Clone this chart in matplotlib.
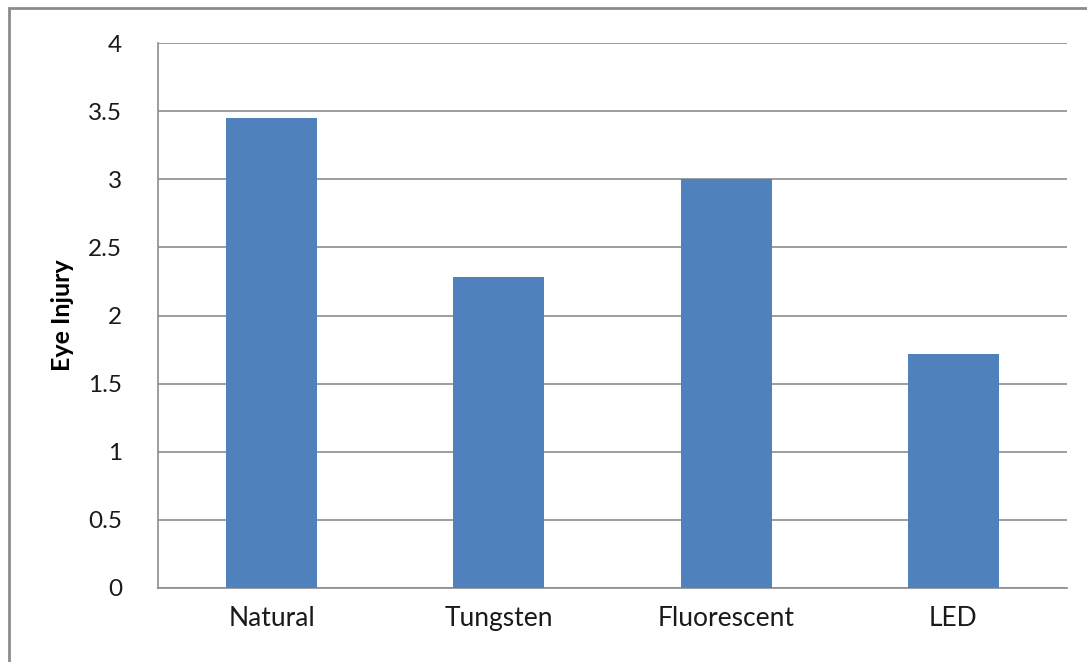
import matplotlib
matplotlib.use("Agg")
import matplotlib.pyplot as plt
from matplotlib.patches import Rectangle

categories = ["Natural", "Tungsten", "Fluorescent", "LED"]
eye_injury = [3.45, 2.28, 3.0, 1.72]
yticks = [0, 0.5, 1, 1.5, 2, 2.5, 3, 3.5, 4]
ytick_labels = ["0", "0.5", "1", "1.5", "2", "2.5", "3", "3.5", "4"]

plt.rcParams['font.family'] = ['Lato', 'DejaVu Sans']

fig = plt.figure(figsize=(10.87, 6.62), dpi=100)
ax = fig.add_axes([0.1454, 0.1118, 0.8362, 0.8232])

# grey frame round the chart (right and bottom sides cut off)
fig.patches.append(Rectangle((0.0083, -0.05), 1.1, 0.05 + 0.9879,
                             transform=fig.transFigure, fill=False,
                             edgecolor="#8c8c8c", linewidth=2))

x = range(len(categories))
ax.bar(x, eye_injury, width=0.4, color="#4f81bd", zorder=3)

ax.set_xlim(-0.5, len(categories) - 0.5)
ax.set_ylim(0, 4)
ax.set_yticks(yticks)
ax.set_yticklabels(ytick_labels)
ax.set_xticks(list(x))
ax.set_xticklabels(categories)
ax.grid(axis="y", color="#8c8c8c", linewidth=1.2, zorder=0)

for side in ["top", "right"]:
    ax.spines[side].set_visible(False)
for side in ["left", "bottom"]:
    ax.spines[side].set_color("#8c8c8c")
    ax.spines[side].set_linewidth(1.2)

ax.tick_params(axis="y", length=0, labelsize=17.5, colors="#1a1a1a", pad=26)
ax.tick_params(axis="x", length=0, labelsize=19, colors="#1a1a1a", pad=13)

ax.set_ylabel("Eye Injury", fontsize=18, fontweight="bold", labelpad=10)

fig.savefig("out.png", dpi=100)
